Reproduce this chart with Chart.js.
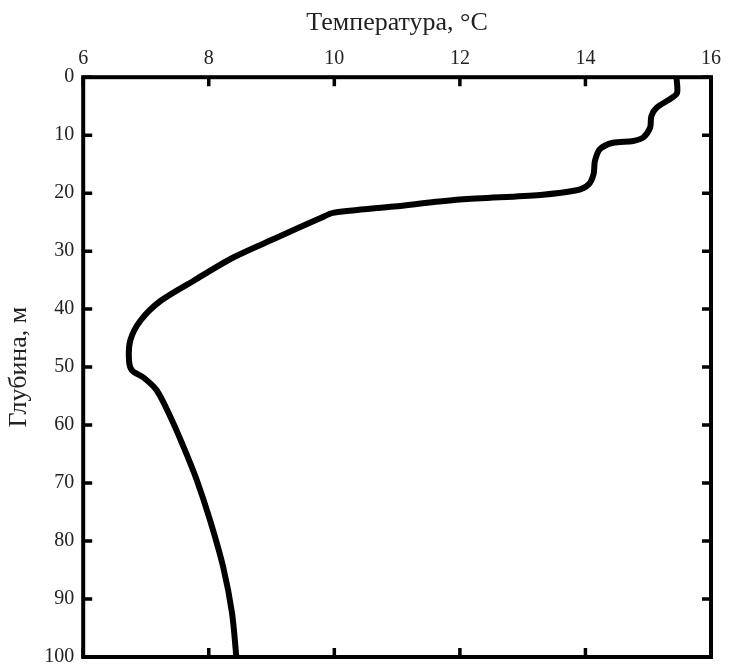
<!DOCTYPE html>
<html>
<head>
<meta charset="utf-8">
<script src="https://cdn.jsdelivr.net/npm/chart.js@4"></script>
<style>
  html, body { margin: 0; padding: 0; background: #fff; }
  #wrap { width: 729px; height: 666px; }
</style>
</head>
<body>
<div id="wrap"><canvas id="myChart" width="729" height="666"></canvas></div>
<script>
// профиль температуры по глубине
const depths = [0, 2.7, 3.6, 5.3, 6.7, 8.7, 10.4, 11.0, 11.3, 12.4, 14.5, 16.7, 18.5, 19.5, 20.3, 21.1, 22.3, 23.4, 24.2, 27.7, 31.1, 35.1, 38.6, 42, 45.4, 48.9, 50.6, 51.8, 54, 58.6, 63.8, 69.5, 76.4, 84.5, 92.4, 100];
const temps = [15.45, 15.46, 15.37, 15.13, 15.05, 15.03, 14.92, 14.76, 14.44, 14.23, 14.15, 14.13, 14.05, 13.86, 13.28, 12.0, 10.95, 9.98, 9.8, 9.08, 8.39, 7.76, 7.23, 6.91, 6.75, 6.73, 6.78, 6.96, 7.17, 7.39, 7.6, 7.81, 8.02, 8.23, 8.37, 8.44];
const tempTicks = [6, 8, 10, 12, 14, 16];
const depthTicks = [0, 10, 20, 30, 40, 50, 60, 70, 80, 90, 100];

const serif = "'Liberation Serif', 'Times New Roman', serif";

// рамка и засечки внутрь
const frame = {
  id: "frame",
  afterDraw(chart) {
    const c = chart.ctx;
    const a = chart.chartArea;
    const xs = chart.scales.x;
    const ys = chart.scales.y;
    c.save();
    c.strokeStyle = "#000";
    c.lineWidth = 3.5;
    tempTicks.forEach(function (v) {
      let px = xs.getPixelForValue(v);
      c.beginPath();
      c.moveTo(px, a.top); c.lineTo(px, a.top + 9);
      c.moveTo(px, a.bottom); c.lineTo(px, a.bottom - 9);
      c.stroke();
    });
    depthTicks.forEach(function (v) {
      let py = ys.getPixelForValue(v);
      c.beginPath();
      c.moveTo(a.left, py); c.lineTo(a.left + 9, py);
      c.moveTo(a.right, py); c.lineTo(a.right - 9, py);
      c.stroke();
    });
    c.lineWidth = 4;
    c.strokeRect(a.left, a.top, a.right - a.left, a.bottom - a.top);
    c.restore();
  }
};

const ctx = document.getElementById("myChart");
const myChart = new Chart(ctx, {
  type: "scatter",
  data: {
    datasets: [
      {
        data: depths.map(function (d, i) { return { x: temps[i], y: d }; }),
        showLine: true,
        borderColor: "#000",
        borderWidth: 6,
        pointRadius: 0,
        tension: 0.3,
        borderCapStyle: "round",
        borderJoinStyle: "round",
      },
    ],
  },
  options: {
    responsive: false,
    animation: false,
    layout: {
      padding: { left: 4, right: 18, top: 8, bottom: 9 },
    },
    plugins: {
      legend: { display: false },
      tooltip: { enabled: false },
    },
    scales: {
      x: {
        type: "linear",
        position: "top",
        min: 6,
        max: 16,
        afterBuildTicks: function (s) {
          s.ticks = tempTicks.map(function (v) { return { value: v }; });
        },
        afterFit: function (s) {
          s.paddingLeft = 0;
          s.paddingRight = 0;
        },
        grid: { display: false, drawTicks: false },
        border: { display: false },
        ticks: {
          color: "#222",
          padding: 6,
          maxRotation: 0,
          font: { family: serif, size: 20 },
        },
        title: {
          display: true,
          text: "Температура, °C",
          color: "#222",
          padding: { top: 0, bottom: 2 },
          font: { family: serif, size: 26 },
        },
      },
      y: {
        type: "linear",
        reverse: true,
        min: 0,
        max: 100,
        afterBuildTicks: function (s) {
          s.ticks = depthTicks.map(function (v) { return { value: v }; });
        },
        afterFit: function (s) {
          s.paddingTop = 0;
          s.paddingBottom = 0;
        },
        grid: { display: false, drawTicks: false },
        border: { display: false },
        ticks: {
          color: "#222",
          padding: 9,
          font: { family: serif, size: 20 },
        },
        title: {
          display: true,
          text: "Глубина, м",
          color: "#222",
          padding: { top: 0, bottom: 0 },
          font: { family: serif, size: 26 },
        },
      },
    },
  },
  plugins: [frame],
});
</script>
</body>
</html>
